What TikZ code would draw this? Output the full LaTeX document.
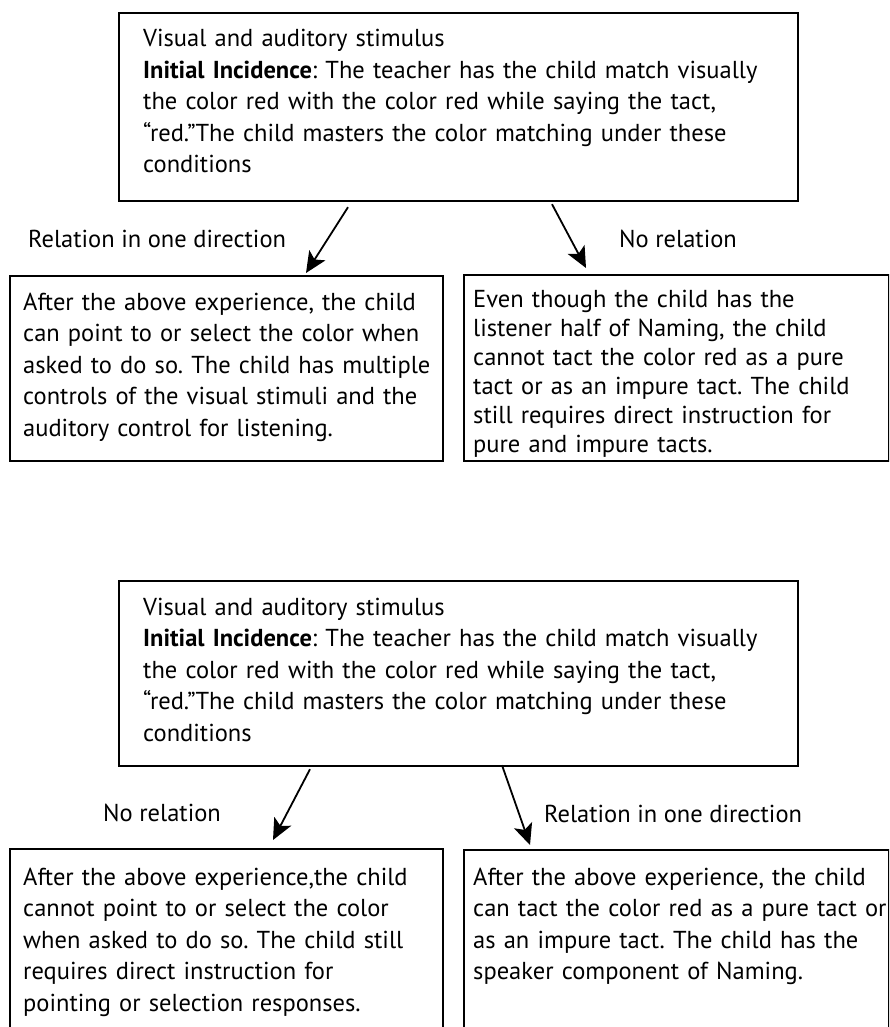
\documentclass[tikz,border=0pt]{standalone}
\usepackage{fontspec}
\setmainfont{PT Sans}
\usetikzlibrary{arrows.meta,calc}
\frenchspacing
\begin{document}
\begin{tikzpicture}[x=1pt,y=-1pt,
  box/.style={draw=black, line width=2.2pt, inner sep=0pt, anchor=north west},
  txt/.style={anchor=base west, inner sep=0pt, text width=430pt, align=left},
  tpitch/.style={font=\fontsize{24.5}{31.5}\selectfont\frenchspacing},
  lpitch/.style={font=\fontsize{24.5}{31.5}\selectfont\frenchspacing},
  rpitch/.style={font=\fontsize{24.5}{29}\selectfont\frenchspacing},
  lbl/.style={anchor=base west, inner sep=0pt, font=\fontsize{24.5}{28}\selectfont},
  arr/.style={line width=1.8pt, -{Stealth[length=21pt,width=19pt,inset=5pt]}}]
\clip (0,0) rectangle (889,1027);
\fill[white] (0,0) rectangle (889,1027);

% ---------- upper diagram ----------
\node[box, minimum width=679pt, minimum height=188pt] (t1) at (118,12) {};
\node[txt, tpitch, text width=645pt] (t1txt) at (143,47) {Visual and auditory stimulus\\
\textbf{Initial Incidence}: The teacher has the child match visually\\
the color red with the color red while saying the tact,\\
“red.”The child masters the color matching under these\\
conditions};

\node[box, minimum width=433pt, minimum height=185pt] (l1) at (9,275) {};
\node[txt, lpitch] (l1txt) at (23,310) {After the above experience, the child\\
can point to or select the color when\\
asked to do so. The child has multiple\\
controls of the visual stimuli and the\\
auditory control for listening.};

\node[box, minimum width=425pt, minimum height=186pt] (r1) at (463,274) {};
\node[txt, rpitch] (r1txt) at (473,307) {Even though the child has the\\
listener half of Naming, the child\\
cannot tact the color red as a pure\\
tact or as an impure tact. The child\\
still requires direct instruction for\\
pure and impure tacts.};

\node[lbl] (lab1) at (28,247) {Relation in one direction};
\node[lbl] (lab2) at (619,247) {No relation};

\coordinate (a1s) at ($(t1.south west)+(230,5)$);
\coordinate (a1e) at ($(l1.north west)+(297,-2)$);
\coordinate (a2s) at ($(t1.south west)+(434,2)$);
\coordinate (a2e) at ($(r1.north west)+(123,-6)$);
\draw[arr] (a1s) -- (a1e);
\draw[arr] (a2s) -- (a2e);

% ---------- lower diagram ----------
\node[box, minimum width=679pt, minimum height=185pt] (t2) at (118,580) {};
\node[txt, tpitch, text width=645pt] (t2txt) at (143,615) {Visual and auditory stimulus\\
\textbf{Initial Incidence}: The teacher has the child match visually\\
the color red with the color red while saying the tact,\\
“red.”The child masters the color matching under these\\
conditions};

\node[box, minimum width=433pt, minimum height=200pt] (l2) at (9,848) {};
\node[txt, lpitch] (l2txt) at (23,885) {After the above experience,the child\\
cannot point to or select the color\\
when asked to do so. The child still\\
requires direct instruction for\\
pointing or selection responses.};

\node[box, minimum width=425pt, minimum height=200pt] (r2) at (463,849) {};
\node[txt, lpitch] (r2txt) at (473,885) {After the above experience, the child\\
can tact the color red as a pure tact or\\
as an impure tact. The child has the\\
speaker component of Naming.};

\node[lbl] (lab3) at (103,821) {No relation};
\node[lbl] (lab4) at (544,822) {Relation in one direction};

\coordinate (b1s) at ($(t2.south west)+(192,2)$);
\coordinate (b1e) at ($(l2.north west)+(264,-8)$);
\coordinate (b2s) at ($(t2.south west)+(384,-2)$);
\coordinate (b2e) at ($(r2.north west)+(67,-4)$);
\draw[arr] (b1s) -- (b1e);
\draw[arr] (b2s) -- (b2e);
\end{tikzpicture}
\end{document}
